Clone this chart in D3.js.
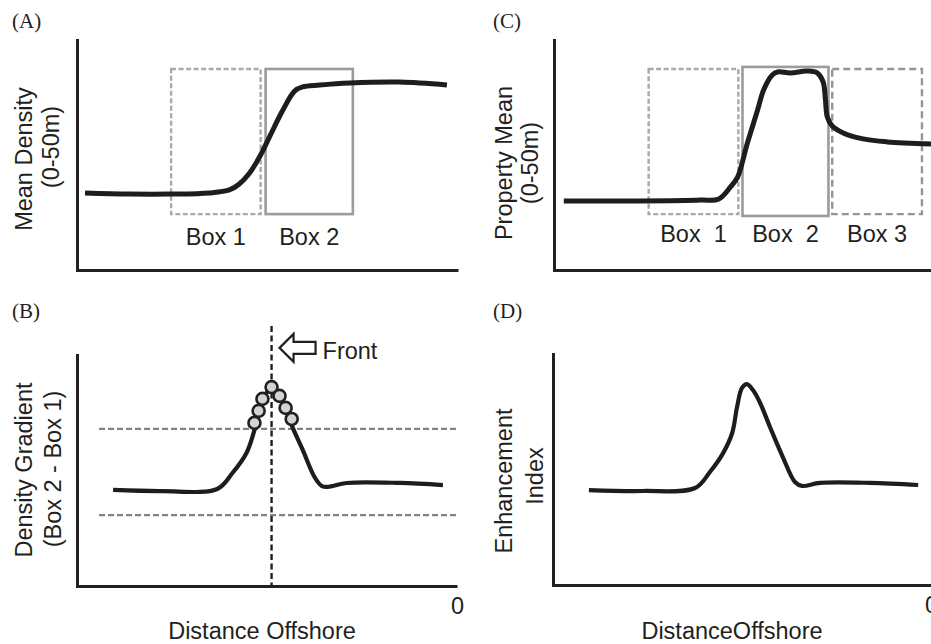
<!DOCTYPE html>
<html>
<head>
<meta charset="utf-8">
<script src="https://cdn.jsdelivr.net/npm/d3@7"></script>
<style>
  html, body { margin: 0; padding: 0; background: #fff; }
  svg { display: block; }
  text { font-family: "Liberation Sans", Arial, Helvetica, sans-serif; fill: #231f20; }
  .plabel { font-family: "Liberation Serif", "Times New Roman", serif; }
</style>
</head>
<body>
<svg id="chart" width="931" height="644"></svg>
<script>
// ---------------- DATA (x: 0-100 across axis, y: 0-100 up axis) ----------------
const panelLabels = ["(A)", "(B)", "(C)", "(D)"];
const xTickValues = [100];
const xTickLabels = ["0"];

// (A) Mean density
const densityX = [2.1, 13.7, 24.7, 34.7, 40.0, 42.6, 45.3, 47.9, 50.5, 53.9, 57.1, 59.2, 63.7, 71.6, 84.7, 97.1];
const densityY = [33.5, 33.0, 33.0, 33.5, 34.8, 37.4, 42.2, 49.1, 57.8, 69.1, 77.8, 79.6, 80.4, 81.3, 81.7, 80.4];
const boxesA = [
  { name: "Box 1", x0: 24.7, x1: 48.2, y0: 24.3, y1: 87.4, style: "dashLight" },
  { name: "Box 2", x0: 49.5, x1: 72.4, y0: 24.3, y1: 87.4, style: "solid" }
];

// (B) Density gradient
const gradientX = [9.5, 22.4, 36.9, 40.9, 44.6, 46.7, 48.8, 51.2, 53.6, 56.7, 59.4, 62.5, 64.4, 66.0, 71.0, 85.0, 96.3];
const gradientY = [41.6, 41.1, 42.0, 48.9, 57.6, 67.5, 80.5, 85.7, 81.8, 68.8, 58.9, 47.2, 43.3, 42.9, 44.6, 44.6, 43.7];
const frontPointsX = [46.7, 47.8, 48.8, 51.2, 53.3, 54.9, 56.5];
const frontPointsY = [70.6, 75.8, 81.0, 86.1, 82.3, 77.1, 72.3];
const thresholds = [68.0, 30.7];
const thresholdStart = 5.8;
const frontX = 51.2;
const frontTop = 112.6;

// (C) Property mean
const propertyX = [2.6, 23.0, 38.9, 43.7, 46.8, 48.7, 51.3, 54.0, 55.6, 57.9, 59.3, 62.7, 67.2, 69.8, 71.4, 72.0, 72.5, 73.8, 76.7, 82.0, 88.4, 100];
const propertyY = [30.0, 30.0, 30.4, 30.9, 36.1, 40.4, 55.2, 69.6, 78.3, 84.8, 86.1, 85.7, 86.5, 85.7, 81.7, 73.9, 66.5, 62.6, 59.6, 57.0, 55.7, 54.8];
const boxesC = [
  { name: "Box  1", x0: 25.1, x1: 48.9, y0: 24.3, y1: 87.4, style: "dashLight" },
  { name: "Box  2", x0: 50.0, x1: 72.8, y0: 23.5, y1: 88.3, style: "solid" },
  { name: "Box 3", x0: 73.8, x1: 97.6, y0: 24.3, y1: 87.4, style: "dashDark" }
];

// (D) Enhancement index
const enhanceX = [9.5, 23.8, 37.6, 41.5, 45.0, 47.4, 48.7, 50.0, 51.3, 52.9, 54.8, 57.4, 60.8, 64.0, 65.9, 70.6, 83.9, 96.6];
const enhanceY = [41.1, 40.7, 42.0, 48.9, 57.1, 65.8, 77.1, 85.3, 87.0, 84.4, 78.8, 68.4, 55.4, 44.6, 42.9, 44.2, 44.2, 43.3];

// ---------------- DRAW ----------------
const svg = d3.select("#chart");
const FS = 23.5;

const boxStyles = {
  dashLight: { stroke: "#a7a9ac", dash: "5,2.5", width: 2.4 },
  solid: { stroke: "#999b9e", dash: null, width: 2.6 },
  dashDark: { stroke: "#939598", dash: "7,4", width: 2.4 }
};

function panel(cfg) {
  const x = d3.scaleLinear().domain([0, 100]).range([cfg.left, cfg.left + cfg.w]);
  const y = d3.scaleLinear().domain([0, 100]).range([cfg.bottom, cfg.bottom - cfg.h]);
  const g = svg.append("g");

  g.append("text").attr("class", "plabel")
    .attr("x", cfg.plx).attr("y", cfg.ply)
    .style("font-size", "21px").text(cfg.letter);

  if (cfg.boxes) {
    cfg.boxes.forEach(b => {
      const st = boxStyles[b.style];
      g.append("rect")
        .attr("x", x(b.x0)).attr("y", y(b.y1))
        .attr("width", x(b.x1) - x(b.x0)).attr("height", y(b.y0) - y(b.y1))
        .attr("fill", "none").attr("stroke", st.stroke)
        .attr("stroke-width", st.width)
        .attr("stroke-dasharray", st.dash);
      g.append("text")
        .attr("x", (x(b.x0) + x(b.x1)) / 2)
        .attr("y", cfg.boxLabelY)
        .attr("text-anchor", "middle")
        .style("font-size", FS + "px")
        .style("white-space", "pre")
        .attr("xml:space", "preserve")
        .text(b.name);
    });
  }

  if (cfg.extra) cfg.extra(g, x, y);

  const pts = cfg.xs.map((v, i) => [v, cfg.ys[i]]);
  g.append("path")
    .datum(pts)
    .attr("fill", "none")
    .attr("stroke", "#1f1c1d")
    .attr("stroke-width", cfg.lw)
    .attr("stroke-linejoin", "round")
    .attr("stroke-linecap", "butt")
    .attr("d", d3.line().x(d => x(d[0])).y(d => y(d[1])).curve(d3.curveCatmullRom.alpha(0.5)));

  if (cfg.after) cfg.after(g, x, y);

  const xa = d3.axisBottom(x).tickSize(0).tickSizeOuter(0).tickPadding(11)
    .tickValues(cfg.ticks ? xTickValues : [])
    .tickFormat((d, i) => xTickLabels[i]);
  const gx = g.append("g").attr("transform", `translate(0,${cfg.bottom})`).call(xa);
  const ya = d3.axisLeft(y).tickSize(0).tickSizeOuter(0).tickValues([]);
  const gy = g.append("g").attr("transform", `translate(${cfg.left},0)`).call(ya);
  [gx, gy].forEach(a => {
    a.select(".domain").attr("stroke", "#231f20").attr("stroke-width", 3);
    a.selectAll("text").style("font-size", FS + "px").attr("fill", "#231f20")
      .style("font-family", '"Liberation Sans", Arial, sans-serif');
  });
  gy.select(".domain").attr("stroke-linecap", "square");

  cfg.ylabels.forEach(l => {
    g.append("text")
      .attr("transform", `translate(${l.x},${l.cy}) rotate(-90)`)
      .attr("text-anchor", "middle")
      .style("font-size", FS + "px")
      .text(l.t);
  });
  if (cfg.xlabel) {
    g.append("text")
      .attr("x", cfg.xlabel.x).attr("y", cfg.xlabel.y)
      .attr("text-anchor", "middle")
      .style("font-size", FS + "px")
      .text(cfg.xlabel.t);
  }
}

// (A)
panel({
  letter: panelLabels[0], plx: 12, ply: 28,
  left: 77, w: 381, bottom: 270, h: 230,
  xs: densityX, ys: densityY, lw: 5,
  boxes: boxesA, boxLabelY: 245,
  ylabels: [{ t: "Mean Density", x: 32, cy: 159 }, { t: "(0-50m)", x: 59, cy: 147 }]
});

// (C)
panel({
  letter: panelLabels[2], plx: 493, ply: 28,
  left: 554, w: 377, bottom: 270, h: 230,
  xs: propertyX, ys: propertyY, lw: 5,
  boxes: boxesC, boxLabelY: 242,
  ylabels: [{ t: "Property Mean", x: 512, cy: 163 }, { t: "(0-50m)", x: 538, cy: 163 }]
});

// (B)
panel({
  letter: panelLabels[1], plx: 12, ply: 318,
  left: 77, w: 380, bottom: 586, h: 231,
  xs: gradientX, ys: gradientY, lw: 4.2, ticks: true,
  extra: (g, x, y) => {
    thresholds.forEach(t => {
      g.append("line")
        .attr("x1", x(thresholdStart)).attr("x2", x(100.3))
        .attr("y1", y(t)).attr("y2", y(t))
        .attr("stroke", "#808285").attr("stroke-width", 2.4)
        .attr("stroke-dasharray", "6,3");
    });
    g.append("line")
      .attr("x1", x(frontX)).attr("x2", x(frontX))
      .attr("y1", y(frontTop)).attr("y2", y(0))
      .attr("stroke", "#231f20").attr("stroke-width", 2.4)
      .attr("stroke-dasharray", "6,3.5");
    const ax = x(frontX) + 8, ay = y(frontTop) + 22;
    const arrow = d3.path();
    arrow.moveTo(ax, ay);
    arrow.lineTo(ax + 14, ay - 14);
    arrow.lineTo(ax + 14, ay - 6);
    arrow.lineTo(ax + 36, ay - 6);
    arrow.lineTo(ax + 36, ay + 6);
    arrow.lineTo(ax + 14, ay + 6);
    arrow.lineTo(ax + 14, ay + 14);
    arrow.closePath();
    g.append("path").attr("d", arrow.toString())
      .attr("fill", "#fff").attr("stroke", "#231f20").attr("stroke-width", 2.2)
      .attr("stroke-linejoin", "miter");
    g.append("text").attr("x", ax + 43).attr("y", ay + 11)
      .style("font-size", FS + "px").text("Front");
  },
  after: (g, x, y) => {
    g.selectAll("circle.fp").data(frontPointsX).enter().append("circle")
      .attr("class", "fp")
      .attr("cx", d => x(d))
      .attr("cy", (d, i) => y(frontPointsY[i]))
      .attr("r", 6)
      .attr("fill", "#d1d3d4").attr("stroke", "#231f20").attr("stroke-width", 2.6);
  },
  ylabels: [{ t: "Density Gradient", x: 32, cy: 470 }, { t: "(Box 2 - Box 1)", x: 61, cy: 469 }],
  xlabel: { t: "Distance Offshore", x: 262, y: 639 }
});

// (D)
panel({
  letter: panelLabels[3], plx: 493, ply: 318,
  left: 553, w: 378, bottom: 585, h: 231,
  xs: enhanceX, ys: enhanceY, lw: 4.2, ticks: true,
  ylabels: [{ t: "Enhancement", x: 512, cy: 481 }, { t: "Index", x: 543, cy: 476 }],
  xlabel: { t: "DistanceOffshore", x: 732, y: 639 }
});
</script>
</body>
</html>
